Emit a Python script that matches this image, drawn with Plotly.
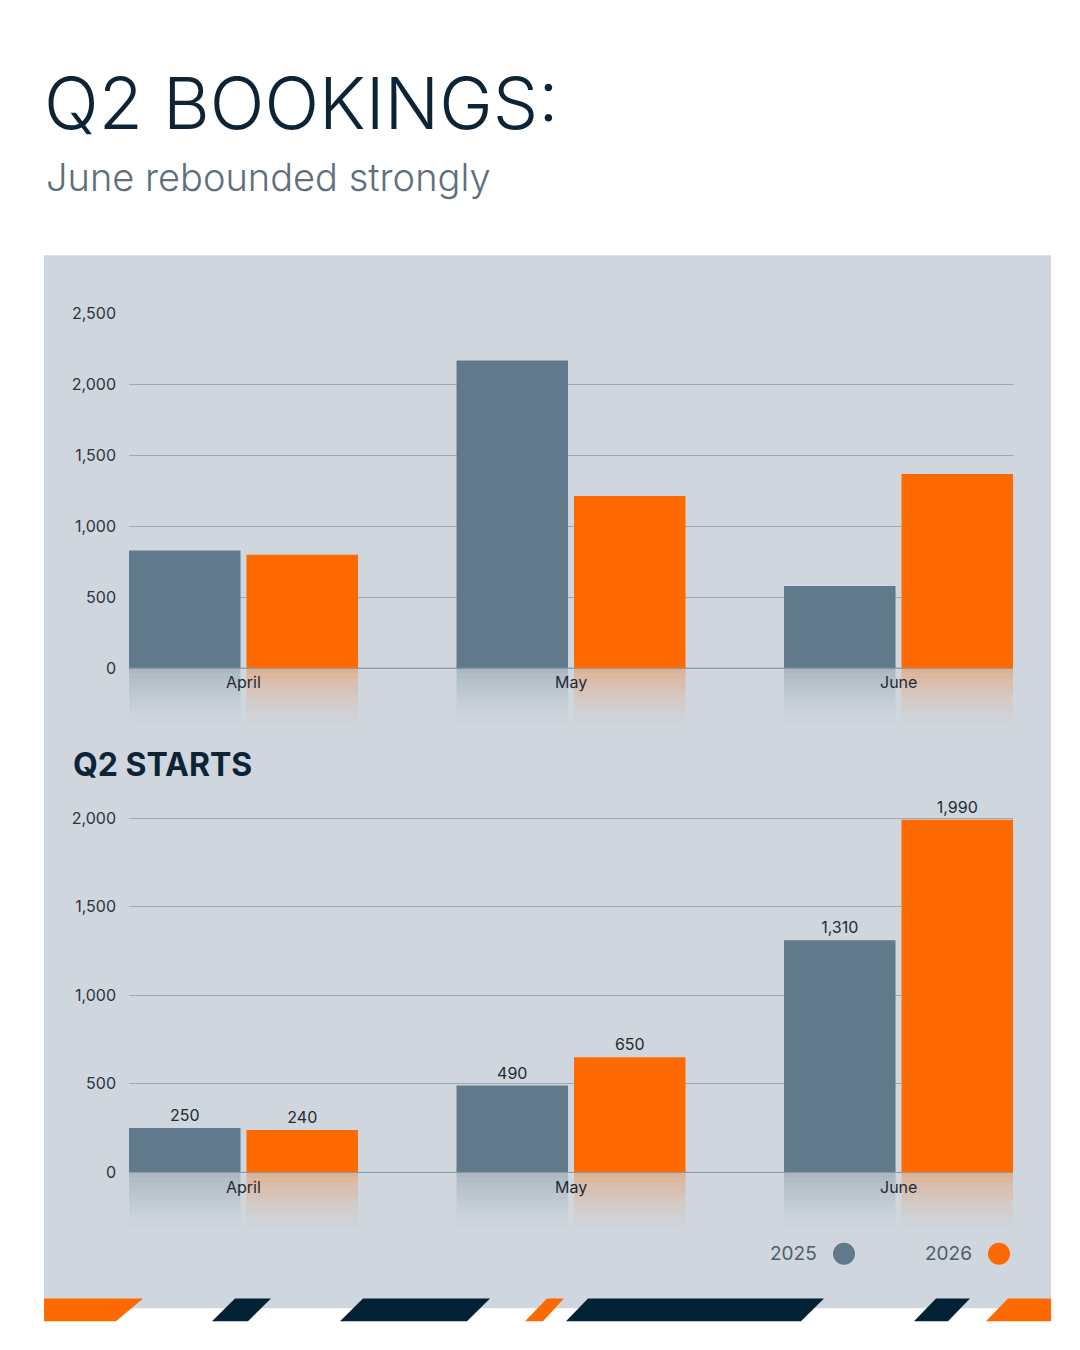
import plotly.graph_objects as go

months = ["April", "May", "June"]
bookings_2025 = [830, 2170, 580]
bookings_2026 = [800, 1215, 1370]
starts_2025 = [250, 490, 1310]
starts_2026 = [240, 650, 1990]
series_names = ["2025", "2026"]
colors = ["#607a8b", "#ff6a00"]

W, H = 1080, 1350
xs = list(range(len(months)))
bw = 0.3405
offs = [-0.3496, 0.0092]

def py(p):  # pixel y -> paper
    return 1 - p / H

def px(p):
    return p / W

fig = go.Figure()

def add_chart(vals_list, yaxis, xaxis, refl_units, labels):
    for i, vals in enumerate(vals_list):
        fig.add_trace(go.Bar(
            x=xs, y=vals, width=bw, offset=offs[i], marker_color=colors[i],
            marker_line_width=0, xaxis=xaxis, yaxis=yaxis, showlegend=False,
            text=[f"{v:,}" for v in vals] if labels else None,
            textposition="outside" if labels else None,
            textfont=dict(family="Inter", size=16, color="#1f2a33"),
            cliponaxis=False, hoverinfo="skip"))
        n = 10
        step = refl_units / n
        for k in range(n):
            fig.add_trace(go.Bar(
                x=xs, y=[step] * len(xs), base=[-(k + 1) * step] * len(xs),
                width=bw, offset=offs[i], marker_color=colors[i],
                marker_line_width=0, opacity=0.32 * (1 - k / n) ** 1.5,
                xaxis=xaxis, yaxis=yaxis, showlegend=False, hoverinfo="skip"))

add_chart([bookings_2025, bookings_2026], "y", "x", 385, False)
add_chart([starts_2025, starts_2026], "y2", "x2", 308, True)

xcommon = dict(range=[-0.3496, 2.3496], showticklabels=False, showgrid=False,
               zeroline=False, domain=[px(121), px(1005)], fixedrange=True)
ycommon = dict(showgrid=True, gridcolor="#9fa9b2", gridwidth=1, zeroline=False,
               tickfont=dict(family="Inter", size=16, color="#2a3540"),
               ticks="", tickformat=",", ticklabelstandoff=12)

fig.update_layout(
    width=W, height=H, margin=dict(l=0, r=0, t=0, b=0),
    paper_bgcolor="white", plot_bgcolor="rgba(0,0,0,0)", barmode="overlay",
    xaxis=dict(**xcommon, anchor="y"),
    xaxis2=dict(**xcommon, anchor="y2"),
    yaxis=dict(**ycommon, range=[-385, 2500], tickvals=[0, 500, 1000, 1500, 2000, 2500],
               domain=[py(710), py(298)], anchor="x"),
    yaxis2=dict(**ycommon, range=[-308, 2146], tickvals=[0, 500, 1000, 1500, 2000],
                domain=[py(1218), py(780)], anchor="x2"),
    font=dict(family="Inter"),
)

shapes = [dict(type="rect", xref="paper", yref="paper", x0=px(36), x1=px(1043),
               y0=py(1300), y1=py(239), fillcolor="#cfd6dd", line_width=0, layer="below")]
for yr in ["y", "y2"]:
    shapes.append(dict(type="line", xref="x" if yr == "y" else "x2", yref=yr,
                       x0=-0.3496, x1=2.3496, y0=0, y1=0,
                       line=dict(color="#8d98a2", width=1), layer="above"))
# decorative stripe
stripes = [((36, 135), (36, 108), "#ff6a00"), ((227, 263), (204, 240), "#012235"),
           ((355, 482), (332, 459), "#012235"), ((539, 556), (517, 535), "#ff6a00"),
           ((580, 816), (558, 793), "#012235"), ((928, 962), (906, 940), "#012235"),
           ((1000, 1043), (978, 1043), "#ff6a00")]
yt, yb = py(1290), py(1313)
for (t0, t1), (b0, b1), c in stripes:
    path = f"M {px(t0)} {yt} L {px(t1)} {yt} L {px(b1)} {yb} L {px(b0)} {yb} Z"
    shapes.append(dict(type="path", xref="paper", yref="paper", path=path,
                       fillcolor=c, line_width=0))
# legend dots
for cx, c in [(836, colors[0]), (991, colors[1])]:
    r = 11
    shapes.append(dict(type="circle", xref="paper", yref="paper",
                       x0=px(cx - r), x1=px(cx + r), y0=py(1245 + r), y1=py(1245 - r),
                       fillcolor=c, line_width=0))
fig.update_layout(shapes=shapes)

ann = [
    dict(text="Q2 BOOKINGS:", x=px(34), y=py(85), xanchor="left", yanchor="middle",
         font=dict(family="Inter", size=72, color="#0d2436", weight=300)),
    dict(text="June rebounded strongly", x=px(36), y=py(160), xanchor="left", yanchor="middle",
         font=dict(family="Inter", size=38, color="#5f6f7d", weight=300)),
    dict(text="<b>Q2 STARTS</b>", x=px(63), y=py(752), xanchor="left", yanchor="middle",
         font=dict(family="Inter", size=32, color="#0d2436")),
    dict(text="2025", x=px(811), y=py(1245), xanchor="right", yanchor="middle",
         font=dict(family="Inter", size=19, color="#4f5d69")),
    dict(text="2026", x=px(966), y=py(1245), xanchor="right", yanchor="middle",
         font=dict(family="Inter", size=19, color="#4f5d69")),
]
for a in ann:
    a.update(xref="paper", yref="paper", showarrow=False)
for xr, yr, yv in [("x", "y", -100), ("x2", "y2", -80)]:
    for i, m in enumerate(months):
        ann.append(dict(text=m, x=i, y=yv, xref=xr, yref=yr, showarrow=False,
                        yanchor="middle", font=dict(family="Inter", size=16, color="#1f2a33")))
fig.update_layout(annotations=ann)

fig.write_html("out.html")
